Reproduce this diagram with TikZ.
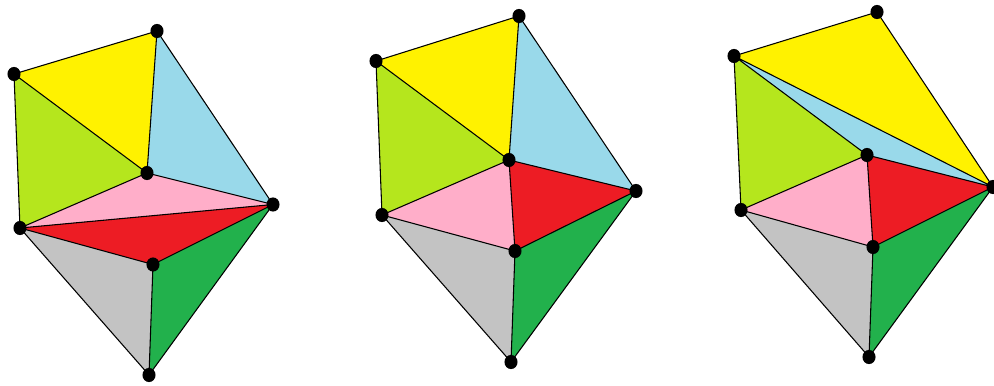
\documentclass[tikz,border=0pt]{standalone}
\definecolor{cy}{HTML}{FFF200}
\definecolor{cb}{HTML}{99D9EA}
\definecolor{cl}{HTML}{B5E61D}
\definecolor{cp}{HTML}{FFAEC9}
\definecolor{cr}{HTML}{ED1C24}
\definecolor{cg}{HTML}{C3C3C3}
\definecolor{cd}{HTML}{22B14C}
\tikzset{
 vtx/.style={ellipse,fill=black,draw=none,minimum width=9.8pt,minimum height=10.6pt,inner sep=0pt},
 face/.style={draw=black,line width=0.8pt,line join=round}
}
\usetikzlibrary{shapes.geometric}
\begin{document}
\begin{tikzpicture}[x=0.75pt,y=-0.75pt]
\useasboundingbox (0,0) rectangle (994,385);
% left
\coordinate (a1) at (14,74);
\coordinate (a2) at (157,31);
\coordinate (a3) at (147,173);
\coordinate (a4) at (273,204.5);
\coordinate (a5) at (20,228);
\coordinate (a6) at (153,264.5);
\coordinate (a7) at (149,375);
\fill[cy] (a1)--(a2)--(a3)--cycle;
\fill[cb] (a2)--(a4)--(a3)--cycle;
\fill[cl] (a1)--(a3)--(a5)--cycle;
\fill[cp] (a5)--(a3)--(a4)--cycle;
\fill[cr] (a5)--(a4)--(a6)--cycle;
\fill[cg] (a5)--(a6)--(a7)--cycle;
\fill[cd] (a6)--(a4)--(a7)--cycle;
\draw[face] (a1)--(a2)--(a4)--(a7)--(a5)--cycle;
\draw[face] (a1)--(a3)--(a2) (a3)--(a4) (a3)--(a5)--(a4) (a5)--(a6)--(a4) (a6)--(a7);
\foreach \n in {a1,a2,a3,a4,a5,a6,a7} \node[vtx] at (\n) {};
% middle
\coordinate (b1) at (376,61);
\coordinate (b2) at (519,16);
\coordinate (b3) at (509,160);
\coordinate (b4) at (636,191);
\coordinate (b5) at (382,215);
\coordinate (b6) at (515,251);
\coordinate (b7) at (511,362);
\fill[cy] (b1)--(b2)--(b3)--cycle;
\fill[cb] (b2)--(b4)--(b3)--cycle;
\fill[cl] (b1)--(b3)--(b5)--cycle;
\fill[cp] (b5)--(b3)--(b6)--cycle;
\fill[cr] (b3)--(b4)--(b6)--cycle;
\fill[cg] (b5)--(b6)--(b7)--cycle;
\fill[cd] (b6)--(b4)--(b7)--cycle;
\draw[face] (b1)--(b2)--(b4)--(b7)--(b5)--cycle;
\draw[face] (b1)--(b3)--(b2) (b3)--(b4) (b3)--(b5)--(b6)--(b4) (b3)--(b6)--(b7);
\foreach \n in {b1,b2,b3,b4,b5,b6,b7} \node[vtx] at (\n) {};
% right
\coordinate (c1) at (734,56);
\coordinate (c2) at (877,12);
\coordinate (c3) at (867,155);
\coordinate (c4) at (993,187);
\coordinate (c5) at (741,210);
\coordinate (c6) at (873,247);
\coordinate (c7) at (869,357);
\fill[cy] (c1)--(c2)--(c4)--cycle;
\fill[cb] (c1)--(c4)--(c3)--cycle;
\fill[cl] (c1)--(c3)--(c5)--cycle;
\fill[cp] (c5)--(c3)--(c6)--cycle;
\fill[cr] (c3)--(c4)--(c6)--cycle;
\fill[cg] (c5)--(c6)--(c7)--cycle;
\fill[cd] (c6)--(c4)--(c7)--cycle;
\draw[face] (c1)--(c2)--(c4)--(c7)--(c5)--cycle;
\draw[face] (c1)--(c4) (c1)--(c3)--(c4) (c3)--(c5)--(c6)--(c4) (c3)--(c6)--(c7);
\foreach \n in {c1,c2,c3,c4,c5,c6,c7} \node[vtx] at (\n) {};
\end{tikzpicture}
\end{document}
